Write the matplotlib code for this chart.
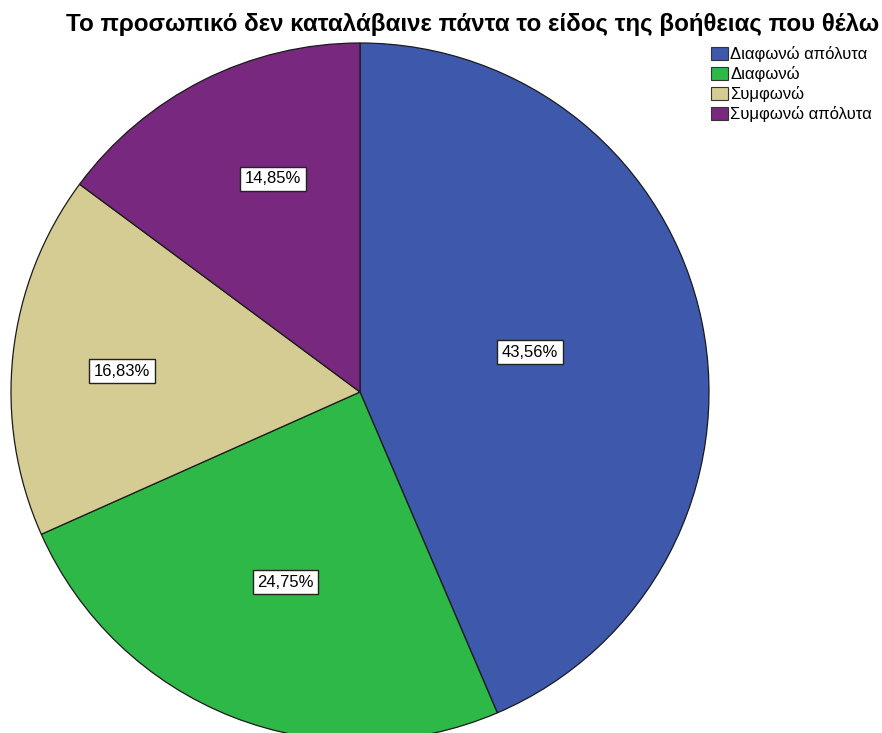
import matplotlib
matplotlib.use("Agg")
import matplotlib.pyplot as plt
from matplotlib.patches import Patch
import numpy as np

title = "Το προσωπικό δεν καταλάβαινε πάντα το είδος της βοήθειας που θέλω"
categories = ["Διαφωνώ απόλυτα", "Διαφωνώ", "Συμφωνώ", "Συμφωνώ απόλυτα"]
percentages = [43.56, 24.75, 16.83, 14.85]
colors = ["#3E58AC", "#2EB848", "#D4CC93", "#78287F"]

# label placement inside each wedge: radial fraction and angular nudge (deg)
label_radius = [0.50, 0.585, 0.685, 0.66]
label_nudge = [1.6, 0.0, 1.2, -4.5]

W, H = 882, 733
fig = plt.figure(figsize=(W / 100, H / 100), dpi=100)
ax = fig.add_axes([0, 0, 1, 1])

cx, cy, r = 360, H - 392, 349
wedges, _ = ax.pie(percentages, colors=colors, startangle=90, counterclock=False,
                   center=(cx, cy), radius=r, frame=True,
                   wedgeprops=dict(edgecolor="#1a1a1a", linewidth=0.9))
ax.set_xlim(0, W)
ax.set_ylim(0, H)
ax.set_aspect("equal")
ax.axis("off")

for w, p, f, d in zip(wedges, percentages, label_radius, label_nudge):
    mid = np.deg2rad((w.theta1 + w.theta2) / 2 + d)
    x = cx + f * r * np.cos(mid)
    y = cy + f * r * np.sin(mid)
    ax.text(x, y, f"{p:.2f}%".replace(".", ","), ha="center", va="center",
            fontsize=12, family="Liberation Sans",
            bbox=dict(boxstyle="square,pad=0.27", facecolor="white",
                      edgecolor="#222222", linewidth=1.0))

fig.text(473 / W, 1 - 24 / H, title, ha="center", va="center",
         fontsize=17.4, fontweight="bold", family="Liberation Sans")

handles = [Patch(facecolor=c, edgecolor="#333333", linewidth=0.8, label=l)
           for c, l in zip(colors, categories)]
fig.legend(handles=handles, loc="upper left", bbox_to_anchor=(711 / W, 1 - 46 / H),
           frameon=False, prop=dict(family="Liberation Sans", size=12),
           handlelength=1.0, handleheight=0.8, handletextpad=0.15,
           labelspacing=0.25, borderaxespad=0, borderpad=0.0)

fig.savefig("out.png", dpi=100)
